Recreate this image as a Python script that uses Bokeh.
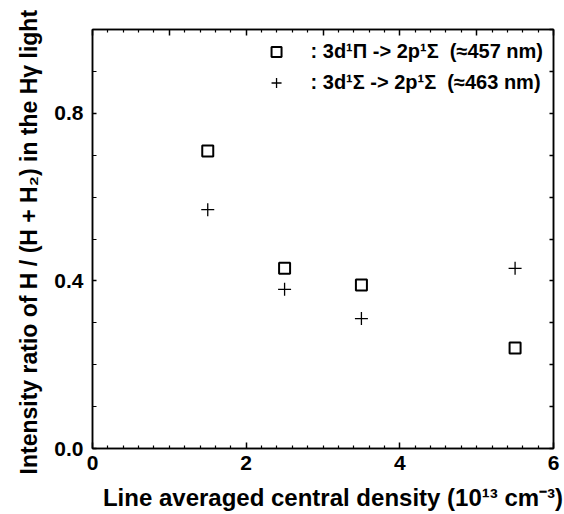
from bokeh.plotting import figure
from bokeh.models import (FixedTicker, LinearAxis, Range1d, Legend, LegendItem,
                          PrintfTickFormatter)
from bokeh.embed import file_html
from bokeh.resources import INLINE

# data
density = [1.5, 2.5, 3.5, 5.5]
ratio_457 = [0.71, 0.43, 0.39, 0.24]
ratio_463 = [0.57, 0.38, 0.31, 0.43]

label_457 = ": 3d\u00b9\u03a0 -> 2p\u00b9\u03a3  (\u2248457 nm)"
label_463 = ": 3d\u00b9\u03a3 -> 2p\u00b9\u03a3  (\u2248463 nm)"
x_title = "Line averaged central density (10\u00b9\u00b3 cm\u207b\u00b3)"
y_title = "Intensity ratio of  H / (H + H\u2082) in the H\u03b3 light"

x_labeled = [0, 2, 4, 6]
x_all_major = [0, 1, 2, 3, 4, 5, 6]
x_minor = [0.2, 0.4, 0.6, 0.8, 1.0, 1.2, 1.4, 1.6, 1.8, 2.2, 2.4, 2.6, 2.8, 3.0,
           3.2, 3.4, 3.6, 3.8, 4.2, 4.4, 4.6, 4.8, 5.0, 5.2, 5.4, 5.6, 5.8]
x_minor_top = [0.2, 0.4, 0.6, 0.8, 1.2, 1.4, 1.6, 1.8, 2.2, 2.4, 2.6, 2.8,
               3.2, 3.4, 3.6, 3.8, 4.2, 4.4, 4.6, 4.8, 5.2, 5.4, 5.6, 5.8]
y_labeled = [0.0, 0.4, 0.8]
y_minor = [0.1, 0.2, 0.3, 0.5, 0.6, 0.7, 0.9, 1.0]
y_all = [0.0, 0.1, 0.2, 0.3, 0.4, 0.5, 0.6, 0.7, 0.8, 0.9, 1.0]

FONT = "Liberation Sans"
NB = "\u00a0"

p = figure(width=564, height=514, x_range=Range1d(0, 6), y_range=Range1d(0, 1.0),
           output_backend="svg", toolbar_location=None,
           min_border_left=92, min_border_right=11, min_border_top=29, min_border_bottom=66)
p.xgrid.visible = False
p.ygrid.visible = False
p.outline_line_color = "black"
p.outline_line_width = 1.5
p.background_fill_color = "white"
p.border_fill_color = "white"


def style_axis(ax, ticks, minor, major_len, minor_len, show_labels=True):
    ax.ticker = FixedTicker(ticks=ticks, minor_ticks=minor)
    ax.major_tick_in = major_len
    ax.major_tick_out = 0
    ax.minor_tick_in = minor_len
    ax.minor_tick_out = 0
    ax.major_tick_line_width = 1.5
    ax.minor_tick_line_width = 1.2
    ax.axis_line_color = "black"
    ax.axis_line_width = 1.5
    ax.major_tick_line_color = "black"
    ax.minor_tick_line_color = "black"
    if show_labels:
        ax.major_label_text_font = FONT
        ax.major_label_text_font_style = "bold"
        ax.major_label_text_font_size = "21px"
        ax.major_label_text_color = "black"
    else:
        ax.major_label_text_font_size = "1px"
        ax.major_label_text_color = None
        ax.major_label_standoff = 0


xa = p.xaxis[0]
style_axis(xa, x_labeled, x_minor, 6, 3)
xa.major_label_standoff = 7
xa.formatter = PrintfTickFormatter(format="%d")
xa.axis_label = NB * 3 + x_title
xa.axis_label_text_font = FONT
xa.axis_label_text_font_style = "bold"
xa.axis_label_text_font_size = "24px"
xa.axis_label_text_color = "black"
xa.axis_label_standoff = 11

ya = p.yaxis[0]
style_axis(ya, y_labeled, y_minor, 4, 4)
ya.major_label_standoff = 9
ya.formatter = PrintfTickFormatter(format="%.1f")
ya.axis_label = y_title
ya.axis_label_text_font = FONT
ya.axis_label_text_font_style = "bold"
ya.axis_label_text_font_size = "23px"
ya.axis_label_text_color = "black"
ya.axis_label_standoff = 9

top = LinearAxis()
style_axis(top, x_all_major, x_minor_top, 6, 3, show_labels=False)
p.add_layout(top, "above")
right = LinearAxis()
style_axis(right, y_all, [], 4, 4, show_labels=False)
p.add_layout(right, "right")

r1 = p.scatter(density, ratio_457, marker="square", size=11, fill_color=None,
               line_color="black", line_width=2)
r2 = p.scatter(density, ratio_463, marker="cross", size=13,
               line_color="black", line_width=1.3)

legend = Legend(items=[LegendItem(label=label_457, renderers=[r1]),
                       LegendItem(label=label_463, renderers=[r2])],
                location="top_right")
legend.border_line_alpha = 0
legend.background_fill_alpha = 0
legend.margin = 0
legend.padding = 10
legend.glyph_width = 25
legend.glyph_height = 25
legend.label_height = 25
legend.spacing = 6
legend.label_standoff = 22
legend.label_text_font = FONT
legend.label_text_font_style = "bold"
legend.label_text_font_size = "20px"
legend.label_text_color = "black"
p.add_layout(legend)

open("out.html", "w").write(file_html(p, INLINE))
